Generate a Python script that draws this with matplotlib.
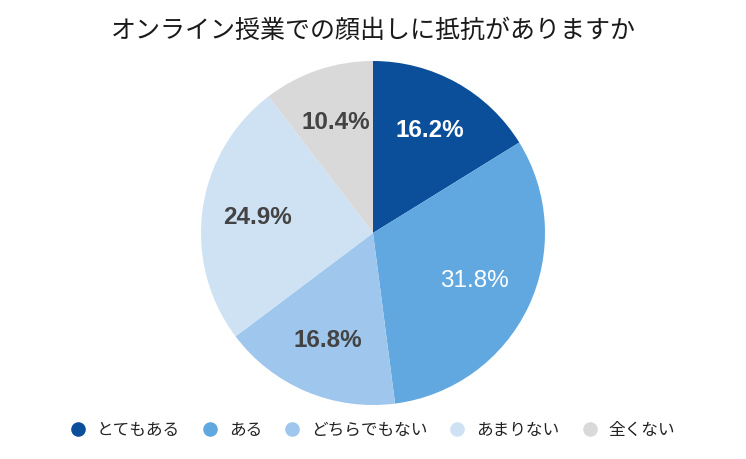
import matplotlib
matplotlib.use("Agg")
import matplotlib.pyplot as plt
from matplotlib.lines import Line2D

plt.rcParams['font.family'] = ['Noto Sans CJK JP', 'DejaVu Sans']

title = "オンライン授業での顔出しに抵抗がありますか"
categories = ["とてもある", "ある", "どちらでもない", "あまりない", "全くない"]
values = [16.2, 31.8, 16.8, 24.9, 10.4]
colors = ["#0B4F9A", "#62A8E0", "#9FC6EC", "#CFE2F4", "#D9D9D9"]
label_colors = ["white", "white", "#434343", "#434343", "#434343"]
label_weights = ["bold", "normal", "bold", "bold", "bold"]

fig = plt.figure(figsize=(7.46, 4.59), dpi=100)
W, H = 746, 459
cx, cy, r = 373, 233, 172
ax = fig.add_axes([(cx - r) / W, 1 - (cy + r) / H, 2 * r / W, 2 * r / H])

wedges, texts, autotexts = ax.pie(
    values, colors=colors, startangle=90, counterclock=False,
    autopct=lambda p: f"{p:.1f}%", pctdistance=0.68, radius=1.0,
    wedgeprops=dict(linewidth=0),
)
for i, (t, c, w) in enumerate(zip(autotexts, label_colors, label_weights)):
    t.set_color(c)
    t.set_fontsize(17.5)
    t.set_fontweight(w)
    t.set_family(["Liberation Sans", "DejaVu Sans"])
    if i == 1:
        x, y = t.get_position()
        t.set_position((x * 0.65 / 0.68, y * 0.65 / 0.68))
ax.set_xlim(-1, 1)
ax.set_ylim(-1, 1)
ax.set_aspect("equal")

fig.text(0.5, 1 - 31 / H, title, ha="center", va="center", fontsize=18, color="#1a1a1a")

handles = [Line2D([0], [0], marker="o", linestyle="", markersize=10.5,
                  markerfacecolor=c, markeredgewidth=0) for c in colors]
leg = fig.legend(handles, categories, loc="center", bbox_to_anchor=(0.5, 1 - 430 / H),
                 ncol=5, frameon=False, handletextpad=0.74,
                 columnspacing=1.4, handlelength=0.8, prop={'size': 12})
for t in leg.get_texts():
    t.set_color("#222222")

fig.savefig("out.png", dpi=100)
